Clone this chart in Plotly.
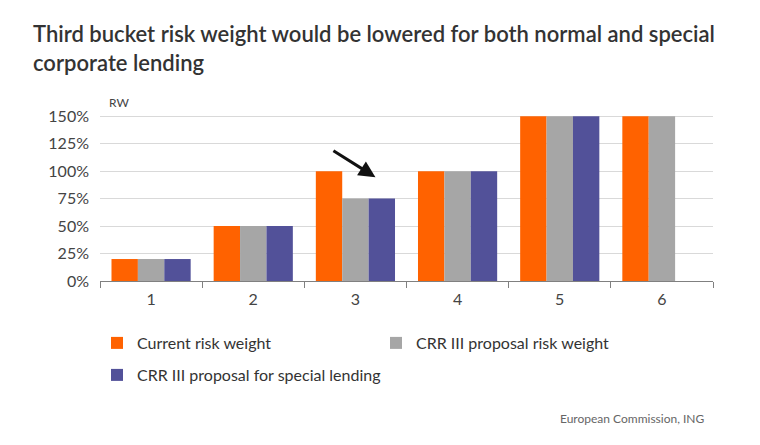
import plotly.graph_objects as go

# buckets and risk weights (%)
buckets = ['1', '2', '3', '4', '5', '6']
current_rw = [20, 50, 100, 100, 150, 150]
crr3_rw = [20, 50, 75, 100, 150, 150]
crr3_special = [20, 50, 75, 100, 150, None]

series_names = ['Current risk weight', 'CRR III proposal risk weight',
                'CRR III proposal for special lending']
colors = ['#FF6200', '#A6A6A6', '#525199']

y_ticks = [0, 25, 50, 75, 100, 125, 150]
y_labels = [f'{v}%' for v in y_ticks]

font_family = 'Lato, Open Sans, sans-serif'

W, H = 760, 445
L, R, T, B = 100, 47, 114, 164
plot_h = H - T - B
plot_w = W - L - R

fig = go.Figure()
fig.add_trace(go.Bar(x=buckets, y=current_rw, name=series_names[0],
                     marker=dict(color=colors[0], line=dict(width=0)), legend='legend'))
fig.add_trace(go.Bar(x=buckets, y=crr3_rw, name=series_names[1],
                     marker=dict(color=colors[1], line=dict(width=0)), legend='legend'))
fig.add_trace(go.Bar(x=buckets, y=crr3_special, name=series_names[2],
                     marker=dict(color=colors[2], line=dict(width=0)), legend='legend2'))

fig.update_layout(
    width=W, height=H,
    margin=dict(l=L, r=R, t=T, b=B, autoexpand=False),
    paper_bgcolor='white', plot_bgcolor='white',
    font=dict(family=font_family, color='#444444'),
    barmode='group', bargap=0.225, bargroupgap=0,
    title=dict(
        text='Third bucket risk weight would be lowered for both normal and special<br>corporate lending',
        x=33 / W, xref='container', xanchor='left',
        y=1 - 42 / H, yref='container', yanchor='top',
        font=dict(size=22, color='#333333', family=font_family, weight=600),
    ),
    xaxis=dict(
        type='category', tickson='boundaries', ticks='outside', ticklen=6,
        tickcolor='#808080', showline=True, linecolor='#808080', linewidth=1,
        showgrid=False, tickfont=dict(size=16, color='#444444'),
        ticklabelstandoff=4,
    ),
    yaxis=dict(
        range=[0, 152], tickmode='array', tickvals=y_ticks, ticktext=y_labels,
        showgrid=True, gridcolor='#D9D9D9', gridwidth=1, zeroline=False,
        showline=False, tickfont=dict(size=16, color='#444444'), ticklabelstandoff=10,
    ),
    legend=dict(
        orientation='h', x=97 / W, xref='container', xanchor='left',
        y=1 - 326 / H, yref='container', yanchor='top',
        entrywidth=234, entrywidthmode='pixels', itemwidth=30,
        font=dict(size=16, color='#333333'), traceorder='normal',
    ),
    legend2=dict(
        orientation='h', x=97 / W, xref='container', xanchor='left',
        y=1 - 358 / H, yref='container', yanchor='top',
        itemwidth=30, font=dict(size=16, color='#333333'),
    ),
    showlegend=True,
)

# arrow over bucket 3
fig.add_annotation(
    x=2.196, y=94.5, ax=1.77, ay=119.5, xref='x', yref='y', axref='x', ayref='y',
    showarrow=True, arrowhead=2, arrowsize=1.1, arrowwidth=3, arrowcolor='#111111', text='',
)

fig.add_annotation(
    text='RW', x=7 / plot_w, y=1.0, xref='paper', yref='paper', xanchor='left', yanchor='bottom',
    yshift=2, showarrow=False, font=dict(size=12, color='#444444'),
)
fig.add_annotation(
    text='European Commission, ING', x=(706 - L) / plot_w, y=-(418 - (H - B)) / plot_h,
    xref='paper', yref='paper', xanchor='right', yanchor='middle',
    showarrow=False, font=dict(size=12, color='#666666'),
)

fig.write_html('out.html', config={'displayModeBar': False},
               post_script="document.body.style.margin='0';")
